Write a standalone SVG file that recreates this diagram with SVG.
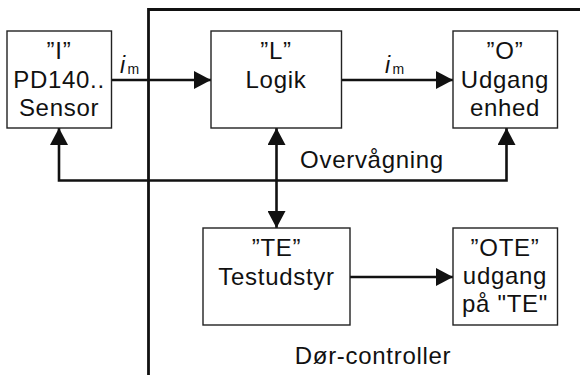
<svg xmlns="http://www.w3.org/2000/svg" width="580" height="375" viewBox="0 0 580 375">
<style>
.box{fill:#fff;stroke:#222;stroke-width:1.4}
.t{font-family:"Liberation Sans",Arial,Helvetica,sans-serif;font-size:24px;fill:#111;text-anchor:middle;letter-spacing:0.7px}
.c{fill:none;stroke:#111;stroke-width:2.6}
.b{fill:none;stroke:#111;stroke-width:2.8}
.it{font-family:"Liberation Sans",Arial,sans-serif;font-style:italic;font-size:23px;fill:#111}
.sub{font-family:"Liberation Sans",Arial,sans-serif;font-size:14px;fill:#111}
</style>
<defs>
<marker id="ah" markerUnits="userSpaceOnUse" markerWidth="17" markerHeight="18" refX="17" refY="9" orient="auto-start-reverse">
<path d="M0,0 L17,9 L0,18 Z" fill="#111"/>
</marker>
</defs>
<g id="boundary">
<path class="b" d="M148.5,375 L148.5,9.5 L580,9.5"/>
<text class="t" x="373" y="364">Dør-controller</text>
</g>
<g id="connectors">
<path class="c" d="M111,80 L211,80" marker-end="url(#ah)"/>
<path class="c" d="M341,80 L453,80" marker-end="url(#ah)"/>
<path class="c" d="M59,128 L59,180.5 L506.5,180.5 L506.5,128" marker-start="url(#ah)" marker-end="url(#ah)"/>
<path class="c" d="M276.5,128 L276.5,228" marker-start="url(#ah)" marker-end="url(#ah)"/>
<path class="c" d="M350,277 L453,277" marker-end="url(#ah)"/>
<text class="it" x="120" y="73">i</text><text class="sub" x="127.5" y="74">m</text>
<text class="it" x="385" y="73">i</text><text class="sub" x="392.5" y="74">m</text>
<text class="t" x="372" y="168">Overvågning</text>
</g>
<g id="node-I">
<rect class="box" x="7" y="31" width="104.5" height="97"/>
<text class="t" x="59" y="59">”I”</text>
<text class="t" x="59" y="88">PD140..</text>
<text class="t" x="59" y="116">Sensor</text>
</g>
<g id="node-L">
<rect class="box" x="211" y="31" width="130.5" height="97"/>
<text class="t" x="276" y="59">”L”</text>
<text class="t" x="276" y="88">Logik</text>
</g>
<g id="node-O">
<rect class="box" x="453" y="31" width="104.5" height="97"/>
<text class="t" x="505" y="59">”O”</text>
<text class="t" x="505" y="88">Udgang</text>
<text class="t" x="505" y="116">enhed</text>
</g>
<g id="node-TE">
<rect class="box" x="203" y="228" width="147" height="97"/>
<text class="t" x="276.5" y="256">”TE”</text>
<text class="t" x="276.5" y="285">Testudstyr</text>
</g>
<g id="node-OTE">
<rect class="box" x="453" y="228" width="104.5" height="97"/>
<text class="t" x="505" y="256">”OTE”</text>
<text class="t" x="505" y="284">udgang</text>
<text class="t" x="505" y="312">på "TE"</text>
</g>
</svg>
